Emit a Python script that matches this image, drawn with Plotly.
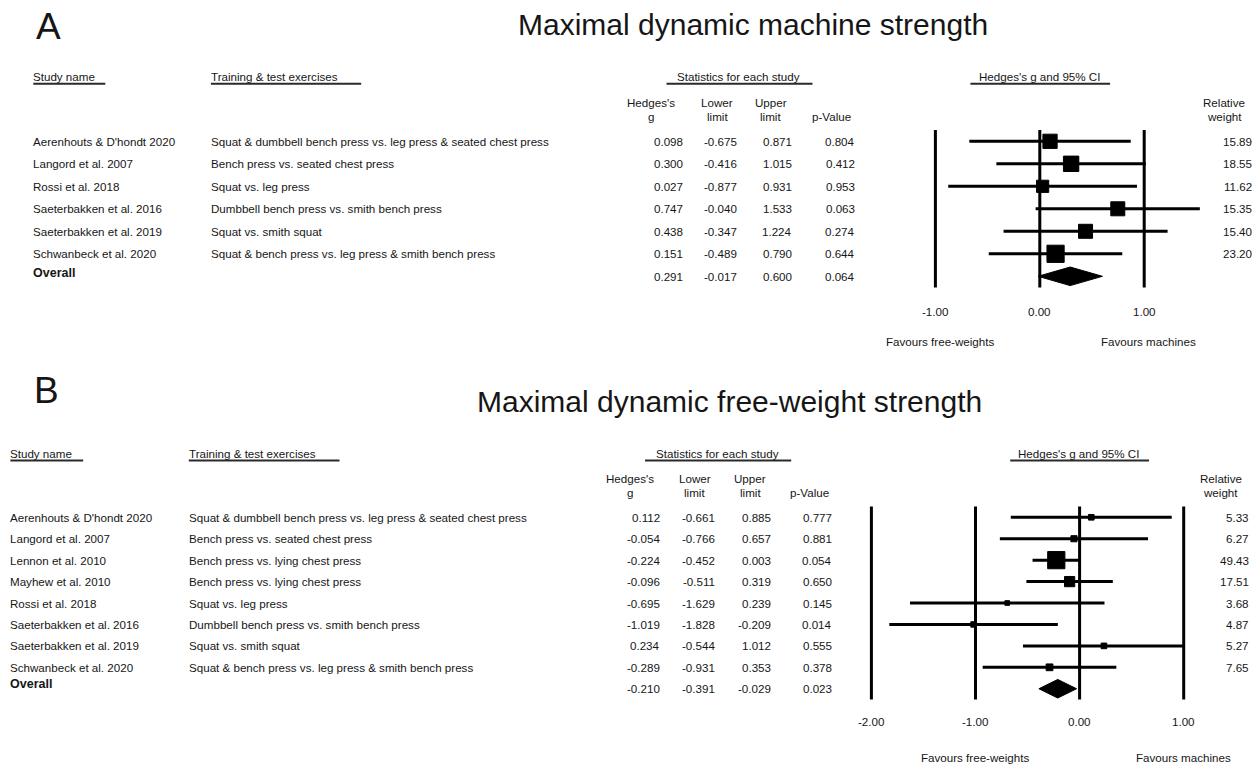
import math
import plotly.graph_objects as go

W, H = 1260, 766

# ---------------- data: panel A (machine strength) ----------------
A_STUDIES = ["Aerenhouts & D'hondt 2020", "Langord et al. 2007", "Rossi et al. 2018",
             "Saeterbakken et al. 2016", "Saeterbakken et al. 2019", "Schwanbeck et al. 2020"]
A_EXERCISES = ["Squat & dumbbell bench press vs. leg press & seated chest press",
               "Bench press vs. seated chest press",
               "Squat vs. leg press",
               "Dumbbell bench press vs. smith bench press",
               "Squat vs. smith squat",
               "Squat & bench press vs. leg press & smith bench press"]
A_G = [0.098, 0.300, 0.027, 0.747, 0.438, 0.151]
A_LOWER = [-0.675, -0.416, -0.877, -0.040, -0.347, -0.489]
A_UPPER = [0.871, 1.015, 0.931, 1.533, 1.224, 0.790]
A_P = [0.804, 0.412, 0.953, 0.063, 0.274, 0.644]
A_WEIGHT = [15.89, 18.55, 11.62, 15.35, 15.40, 23.20]
A_OVERALL = [0.291, -0.017, 0.600, 0.064]   # g, lower, upper, p
A_TICKS = [-1.0, 0.0, 1.0]

# ---------------- data: panel B (free-weight strength) ----------------
B_STUDIES = ["Aerenhouts & D'hondt 2020", "Langord et al. 2007", "Lennon et al. 2010",
             "Mayhew et al. 2010", "Rossi et al. 2018", "Saeterbakken et al. 2016",
             "Saeterbakken et al. 2019", "Schwanbeck et al. 2020"]
B_EXERCISES = ["Squat & dumbbell bench press vs. leg press & seated chest press",
               "Bench press vs. seated chest press",
               "Bench press vs. lying chest press",
               "Bench press vs. lying chest press",
               "Squat vs. leg press",
               "Dumbbell bench press vs. smith bench press",
               "Squat vs. smith squat",
               "Squat & bench press vs. leg press & smith bench press"]
B_G = [0.112, -0.054, -0.224, -0.096, -0.695, -1.019, 0.234, -0.289]
B_LOWER = [-0.661, -0.766, -0.452, -0.511, -1.629, -1.828, -0.544, -0.931]
B_UPPER = [0.885, 0.657, 0.003, 0.319, 0.239, -0.209, 1.012, 0.353]
B_P = [0.777, 0.881, 0.054, 0.650, 0.145, 0.014, 0.555, 0.378]
B_WEIGHT = [5.33, 6.27, 49.43, 17.51, 3.68, 4.87, 5.27, 7.65]
B_OVERALL = [-0.210, -0.391, -0.029, 0.023]
B_TICKS = [-2.0, -1.0, 0.0, 1.0]

COL_HEADERS = [("Hedges's", "g"), ("Lower", "limit"), ("Upper", "limit"), ("", "p-Value")]
WEIGHT_HEADER = ("Relative", "weight")
FAVOURS = ("Favours free-weights", "Favours machines")

# ---------------- layout geometry (pixels) ----------------
GEO_A = dict(letter="A", letter_xy=(48.9, 26.3),
             title="Maximal dynamic machine strength", title_xy=(752.5, 24.2),
             zero_px=1039.8, unit_px=104.4, x_range=(-1.5, 2.0),
             row0_px=141.3, row_px=22.5,
             study_x=33.3, exer_x=210.9, sec_y=76.7, ul_y=83.7,
             study_ul=(33.3, 105.3), exer_ul=(210.9, 361.2),
             stats_cx=738.9, stats_ul=(666.5, 812.5),
             ci_cx=1039.8, ci_ul=(970.4, 1110.1),
             hdr_y=(102.3, 116.7),
             col_cx=[651.3, 717.0, 770.9, 831.5], wt_cx=1224.2,
             col_right=[682.9, 737.2, 792.3, 854.6], wt_right=1252.4,
             tick_y=311.7, fav_y=341.7, fav_x=(940.0, 1148.0),
             overall_dy_px=-3.6)

GEO_B = dict(letter="B", letter_xy=(46.5, 390.3),
             title="Maximal dynamic free-weight strength", title_xy=(729.6, 401.0),
             zero_px=1079.6, unit_px=104.1, x_range=(-2.5, 1.6),
             row0_px=517.3, row_px=21.43,
             study_x=10.4, exer_x=188.8, sec_y=453.7, ul_y=460.5,
             study_ul=(10.4, 83.2), exer_ul=(188.8, 339.5),
             stats_cx=717.9, stats_ul=(645.0, 791.2),
             ci_cx=1078.7, ci_ul=(1010.2, 1149.0),
             hdr_y=(478.3, 492.3),
             col_cx=[629.9, 694.9, 750.0, 809.8], wt_cx=1220.9,
             col_right=[660.2, 715.3, 770.8, 832.4], wt_right=1248.7,
             tick_y=721.0, fav_y=757.3, fav_x=(974.6, 1183.6),
             overall_dy_px=-4.4)

FONT = "Liberation Sans, Arial, sans-serif"
TEXT_COLOR = "#161616"
TEXT_SIZE = 11.6
LINE_W = 3
SQUARE_MAX_PX = 17.2
DIAMOND_HALF_PX = 9.3


def fx(px):
    return px / W


def fy(px):
    return 1 - px / H


fig = go.Figure()
annotations = []
shapes = []


def label(text, x, y, xref="paper", yref="paper", xanchor="left", size=TEXT_SIZE, bold=False):
    annotations.append(dict(
        text=f"<b>{text}</b>" if bold else text, x=x, y=y, xref=xref, yref=yref,
        xanchor=xanchor, yanchor="middle", showarrow=False,
        borderpad=0, borderwidth=0,
        font=dict(family=FONT, size=size, color=TEXT_COLOR)))


def underline(x0, x1, y):
    shapes.append(dict(type="line", xref="paper", yref="paper",
                       x0=fx(x0), x1=fx(x1), y0=fy(y), y1=fy(y),
                       line=dict(color="#2a2a2a", width=2)))


def add_panel(idx, studies, exercises, g, lower, upper, p, weight, overall, ticks, geo):
    sfx = "" if idx == 1 else str(idx)
    xa, ya = "x" + sfx, "y" + sfx
    n = len(studies)
    rows = list(range(n))
    step = geo["row_px"]

    # axes: x in effect-size units, y in row index (top row = 0)
    lo_x, hi_x = geo["x_range"]
    x_dom = [fx(geo["zero_px"] + lo_x * geo["unit_px"]), fx(geo["zero_px"] + hi_x * geo["unit_px"])]
    y_top, y_bot = -1.0, n + 1.2
    y_dom = [fy(geo["row0_px"] + y_bot * step), fy(geo["row0_px"] + y_top * step)]
    fig.update_layout({
        "xaxis" + sfx: dict(domain=x_dom, range=[lo_x, hi_x], visible=False,
                            anchor=ya, fixedrange=True),
        "yaxis" + sfx: dict(domain=y_dom, range=[y_bot, y_top], visible=False,
                            anchor=xa, fixedrange=True),
    })

    # reference lines at each tick value
    for t in ticks:
        shapes.append(dict(type="line", xref=xa, yref=ya, x0=t, x1=t, y0=-0.5, y1=n + 0.5,
                           line=dict(color="black", width=LINE_W)))

    # study estimates with 95% CI, square area proportional to weight
    wmax = max(weight)
    sizes = [SQUARE_MAX_PX * math.sqrt(w / wmax) for w in weight]
    fig.add_trace(go.Scatter(
        x=g, y=rows, xaxis=xa, yaxis=ya, mode="markers", showlegend=False, hoverinfo="skip",
        marker=dict(symbol="square", size=sizes, color="black", opacity=1,
                    line=dict(width=1, color="black")),
        error_x=dict(type="data", symmetric=False,
                     array=[u - v for u, v in zip(upper, g)],
                     arrayminus=[v - l for v, l in zip(g, lower)],
                     thickness=LINE_W, width=0, color="black")))

    # pooled estimate diamond
    og, ol, ou, _ = overall
    hh = DIAMOND_HALF_PX / step
    fig.add_trace(go.Scatter(
        x=[ol, og, ou, og, ol], y=[n, n - hh, n, n + hh, n], xaxis=xa, yaxis=ya,
        mode="lines", fill="toself", fillcolor="black", line=dict(color="black", width=1),
        showlegend=False, hoverinfo="skip"))

    # panel letter and title
    lx, ly = geo["letter_xy"]
    label(geo["letter"], fx(lx), fy(ly), xanchor="center", size=37)
    tx, ty = geo["title_xy"]
    label(geo["title"], fx(tx), fy(ty), xanchor="center", size=30)

    # section headers with underlines
    label("Study name", fx(geo["study_x"]), fy(geo["sec_y"]))
    underline(*geo["study_ul"], geo["ul_y"])
    label("Training &amp; test exercises", fx(geo["exer_x"]), fy(geo["sec_y"]))
    underline(*geo["exer_ul"], geo["ul_y"])
    label("Statistics for each study", fx(geo["stats_cx"]), fy(geo["sec_y"]), xanchor="center")
    underline(*geo["stats_ul"], geo["ul_y"])
    label("Hedges's g and 95% CI", fx(geo["ci_cx"]), fy(geo["sec_y"]), xanchor="center")
    underline(*geo["ci_ul"], geo["ul_y"])

    # column headers
    h1, h2 = geo["hdr_y"]
    for (t1, t2), cx in zip(COL_HEADERS + [WEIGHT_HEADER], geo["col_cx"] + [geo["wt_cx"]]):
        if t1:
            label(t1, fx(cx), fy(h1), xanchor="center")
        label(t2, fx(cx), fy(h2), xanchor="center")

    # study rows
    for i in rows:
        label(studies[i], fx(geo["study_x"]), i, yref=ya)
        label(exercises[i].replace("&", "&amp;"), fx(geo["exer_x"]), i, yref=ya)
        for val, right in zip([g[i], lower[i], upper[i], p[i]], geo["col_right"]):
            label(f"{val:.3f}", fx(right), i, yref=ya, xanchor="right")
        label(f"{weight[i]:.2f}", fx(geo["wt_right"]), i, yref=ya, xanchor="right")

    # overall row
    label("Overall", fx(geo["study_x"]), n + geo["overall_dy_px"] / step, yref=ya, size=12.5, bold=True)
    for val, right in zip(overall, geo["col_right"]):
        label(f"{val:.3f}", fx(right), n, yref=ya, xanchor="right")

    # tick labels and direction captions
    for t in ticks:
        label(f"{t:.2f}", t, fy(geo["tick_y"]), xref=xa, xanchor="center")
    label(FAVOURS[0], fx(geo["fav_x"][0]), fy(geo["fav_y"]), xanchor="center")
    label(FAVOURS[1], fx(geo["fav_x"][1]), fy(geo["fav_y"]), xanchor="center")


add_panel(1, A_STUDIES, A_EXERCISES, A_G, A_LOWER, A_UPPER, A_P, A_WEIGHT, A_OVERALL, A_TICKS, GEO_A)
add_panel(2, B_STUDIES, B_EXERCISES, B_G, B_LOWER, B_UPPER, B_P, B_WEIGHT, B_OVERALL, B_TICKS, GEO_B)

fig.update_layout(
    width=W, height=H, margin=dict(l=0, r=0, t=0, b=0),
    paper_bgcolor="white", plot_bgcolor="white",
    annotations=annotations, shapes=shapes, showlegend=False,
    font=dict(family=FONT, color=TEXT_COLOR),
)

fig.write_html("out.html", config={"displayModeBar": False})
